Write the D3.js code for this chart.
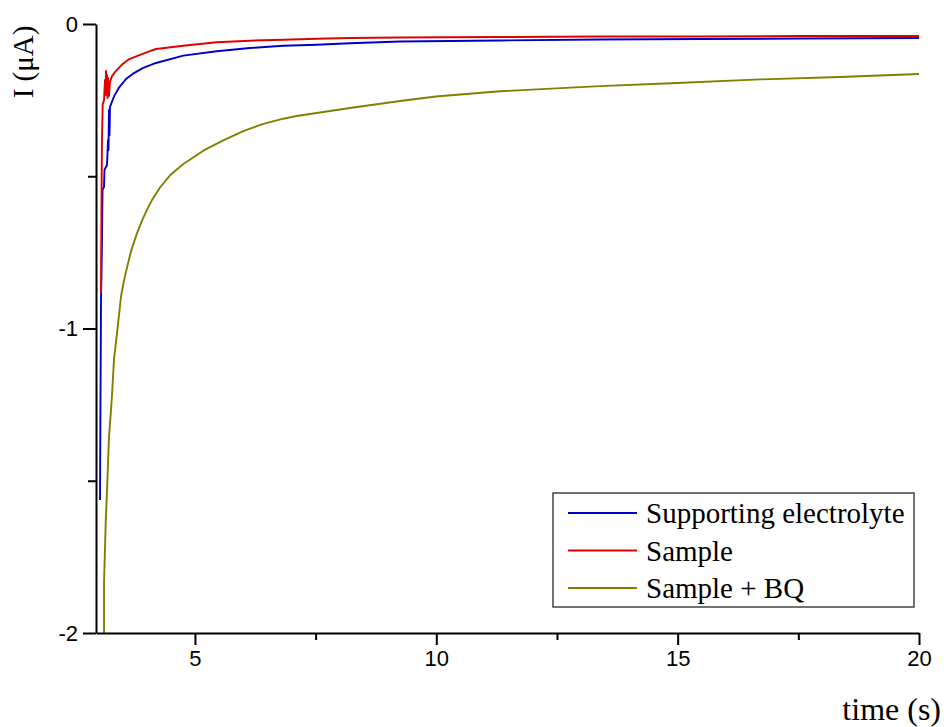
<!DOCTYPE html>
<html>
<head>
<meta charset="utf-8">
<script src="https://cdn.jsdelivr.net/npm/d3@7"></script>
<style>
    body { margin: 0; background: #fff; }
    svg { display: block; }
    .serif { font-family: "Liberation Serif", "Times New Roman", serif; }
</style>
</head>
<body>
<div id="chart"></div>
<script>
// Series names
const seriesNames = ["Supporting electrolyte", "Sample", "Sample + BQ"];

// Supporting electrolyte: time (s), current (µA)
const electrolyteTime = [3.033, 3.043, 3.054, 3.074, 3.085, 3.116, 3.126, 3.178, 3.199, 3.209, 3.219, 3.230, 3.240, 3.261, 3.329, 3.433, 3.572, 3.710, 3.917, 4.193, 4.759, 5.450, 6.140, 6.830, 7.522, 8.212, 9.248, 11.32, 13.39, 15.46, 17.53, 20.0];
const electrolyteCurrent = [-1.563, -1.235, -0.906, -0.709, -0.545, -0.535, -0.479, -0.463, -0.381, -0.414, -0.282, -0.365, -0.273, -0.263, -0.236, -0.207, -0.181, -0.164, -0.145, -0.128, -0.104, -0.0897, -0.0788, -0.0713, -0.0680, -0.0634, -0.0575, -0.0542, -0.0509, -0.0493, -0.0476, -0.0460];

// Sample
const sampleTime = [3.054, 3.064, 3.074, 3.089, 3.116, 3.136, 3.147, 3.157, 3.167, 3.178, 3.188, 3.199, 3.219, 3.240, 3.281, 3.364, 3.503, 3.640, 3.847, 4.054, 4.193, 4.759, 5.450, 6.140, 6.830, 7.522, 8.212, 9.248, 11.32, 13.39, 15.46, 17.53, 20.0];
const sampleCurrent = [-0.883, -0.578, -0.381, -0.263, -0.250, -0.184, -0.233, -0.154, -0.217, -0.167, -0.243, -0.177, -0.236, -0.190, -0.171, -0.154, -0.131, -0.115, -0.102, -0.0900, -0.0821, -0.0713, -0.0601, -0.0548, -0.0516, -0.0483, -0.0460, -0.0443, -0.0427, -0.0411, -0.0411, -0.0394, -0.0394];

// Sample + BQ
const bqTime = [3.116, 3.116, 3.151, 3.184, 3.219, 3.261, 3.288, 3.323, 3.375, 3.427, 3.468, 3.520, 3.571, 3.675, 3.793, 3.897, 4.000, 4.104, 4.276, 4.483, 4.759, 5.173, 5.587, 6.002, 6.416, 6.830, 7.108, 8.21, 9.25, 9.99, 11.32, 13.39, 14.99, 16.71, 18.36, 20.0];
const bqCurrent = [-2.03, -1.836, -1.639, -1.507, -1.356, -1.268, -1.202, -1.100, -1.030, -0.955, -0.895, -0.850, -0.814, -0.746, -0.690, -0.648, -0.612, -0.580, -0.537, -0.497, -0.460, -0.416, -0.382, -0.352, -0.328, -0.311, -0.302, -0.276, -0.253, -0.238, -0.221, -0.204, -0.194, -0.182, -0.174, -0.164];

// Axis ticks
const xMajorTicks = [5, 10, 15, 20];
const xMinorTicks = [7.5, 12.5, 17.5];
const yMajorTicks = [-2, -1, 0];
const yMinorTicks = [-1.5, -0.5];

const colors = ["#0000c8", "#e00000", "#808000"];

const W = 946, H = 727;
const margin = { top: 24, right: 27, bottom: 94, left: 96 };
const width = W - margin.left - margin.right;
const height = H - margin.top - margin.bottom;

const svg = d3.select("#chart").append("svg")
    .attr("width", W)
    .attr("height", H);

const g = svg.append("g")
    .attr("transform", `translate(${margin.left},${margin.top})`);

const x = d3.scaleLinear().domain([2.95, 20]).range([0, width]);
const y = d3.scaleLinear().domain([-2, 0]).range([height, 0]);

g.append("clipPath").attr("id", "plot-clip")
    .append("rect").attr("x", 0).attr("y", -2).attr("width", width + 2).attr("height", height + 2);

// Curves
const series = [
    { name: seriesNames[0], t: electrolyteTime, v: electrolyteCurrent, color: colors[0] },
    { name: seriesNames[1], t: sampleTime, v: sampleCurrent, color: colors[1] },
    { name: seriesNames[2], t: bqTime, v: bqCurrent, color: colors[2] }
];

const line = d3.line()
    .x(d => x(d[0]))
    .y(d => y(d[1]));

series.forEach(s => {
    const pts = s.t.map((t, i) => [t, s.v[i]]);
    g.append("path")
        .datum(pts)
        .attr("clip-path", "url(#plot-clip)")
        .attr("fill", "none")
        .attr("stroke", s.color)
        .attr("stroke-width", 1.9)
        .attr("stroke-linejoin", "round")
        .attr("d", line);
});

// Axes
g.append("g")
    .attr("transform", `translate(0,${height})`)
    .call(d3.axisBottom(x).tickValues(xMajorTicks).tickSize(12).tickSizeOuter(0).tickPadding(5).tickFormat(d => String(d)));

g.append("g")
    .attr("transform", `translate(0,${height})`)
    .call(d3.axisBottom(x).tickValues(xMinorTicks).tickSize(7).tickSizeOuter(0).tickFormat(""))
    .call(a => a.select(".domain").remove());

g.append("g")
    .call(d3.axisLeft(y).tickValues(yMajorTicks).tickSize(13).tickSizeOuter(0).tickPadding(5).tickFormat(d => String(d)));

g.append("g")
    .call(d3.axisLeft(y).tickValues(yMinorTicks).tickSize(8).tickSizeOuter(0).tickFormat(""))
    .call(a => a.select(".domain").remove());

g.selectAll(".domain, .tick line")
    .attr("stroke", "#000")
    .attr("stroke-width", 2);

g.selectAll(".tick text")
    .attr("font-family", "'Liberation Sans', Arial, sans-serif")
    .attr("font-size", 22)
    .attr("fill", "#000");

// Axis labels
svg.append("text")
    .attr("class", "serif")
    .attr("transform", "translate(33,62) rotate(-90)")
    .attr("text-anchor", "middle")
    .attr("font-size", 29)
    .text("I (\u03bcA)");

svg.append("text")
    .attr("class", "serif")
    .attr("x", 941)
    .attr("y", 720)
    .attr("text-anchor", "end")
    .attr("font-size", 32)
    .text("time (s)");

// Legend
const legend = svg.append("g").attr("transform", "translate(553,493)");

legend.append("rect")
    .attr("width", 361)
    .attr("height", 114)
    .attr("fill", "#fff")
    .attr("stroke", "#444")
    .attr("stroke-width", 1.5);

series.forEach((s, i) => {
    const row = legend.append("g").attr("transform", `translate(0,${20 + i * 37.5})`);
    row.append("line")
        .attr("x1", 15).attr("x2", 84)
        .attr("y1", 0).attr("y2", 0)
        .attr("stroke", s.color)
        .attr("stroke-width", 2);
    row.append("text")
        .attr("class", "serif")
        .attr("x", 93)
        .attr("y", 10)
        .attr("font-size", 29)
        .text(s.name);
});
</script>
</body>
</html>
